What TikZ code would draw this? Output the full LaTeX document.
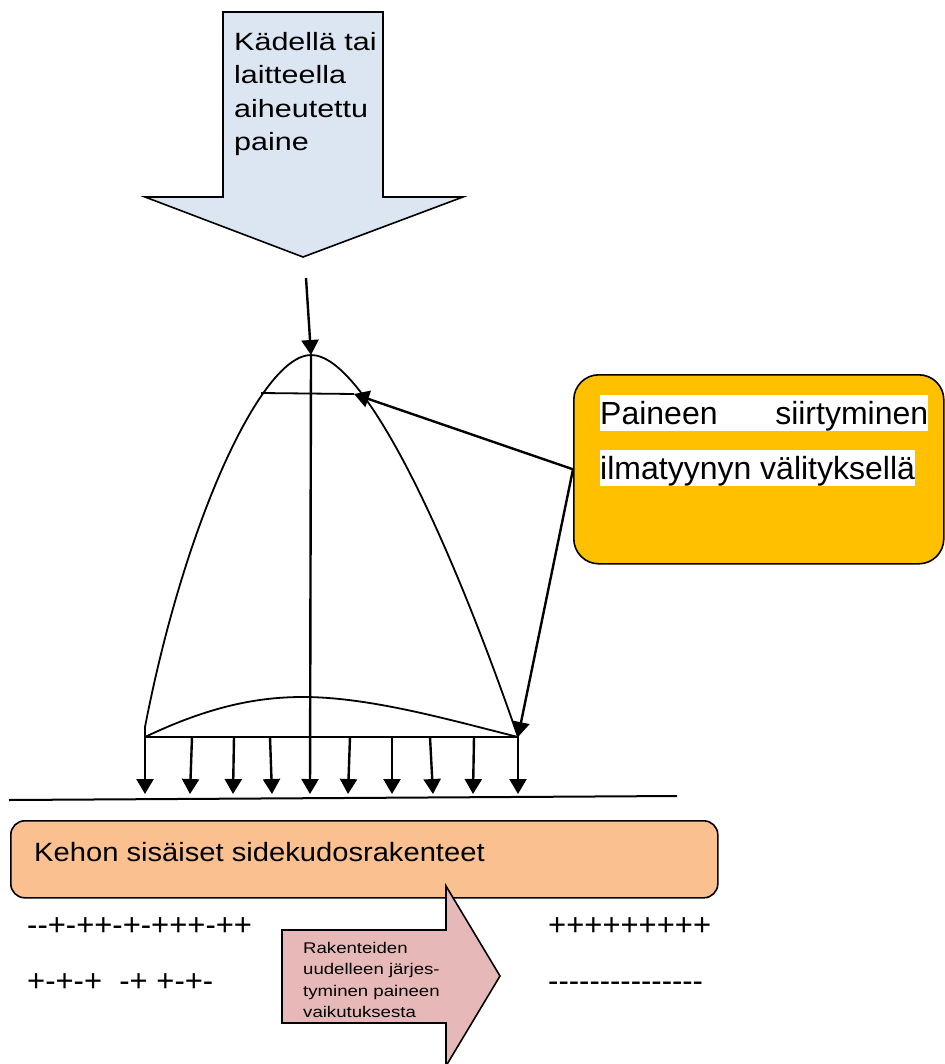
\documentclass[tikz,border=0pt]{standalone}
\usepackage{fontspec}
\setmainfont{Liberation Sans}
\newfontfamily\fA[FakeStretch=1.22]{Liberation Sans}
\newfontfamily\fB[FakeStretch=1.1]{Liberation Sans}
\newfontfamily\fC[FakeStretch=1.2]{Liberation Sans}
\newfontfamily\fD[Ligatures=TeXOff]{Liberation Sans}
\usetikzlibrary{arrows.meta}
\definecolor{blueA}{HTML}{DCE6F2}
\definecolor{yellowA}{HTML}{FFC000}
\definecolor{orangeA}{HTML}{FAC090}
\definecolor{pinkA}{HTML}{E6B9B8}
\begin{document}
\begin{tikzpicture}[x=1pt,y=-1pt,
  thinline/.style={line width=1.8pt},
  arr/.style={line width=2.4pt,-{Triangle[width=17pt,length=15pt]}},
  boxline/.style={line width=1.6pt},
  signs/.style={anchor=base west, inner sep=0, font=\fD\fontsize{31}{36}\selectfont},
  whitebar/.style={fill=white, inner sep=0, text height=29pt, text depth=6.5pt, anchor=base west, font=\fontsize{32}{38}\selectfont}]
\useasboundingbox (0,0) rectangle (944,1064);
\fill[white] (0,0) rectangle (944,1064);

% pressure block arrow
\draw[boxline, fill=blueA] (223,12) -- (383,12) -- (383,197) -- (463,197) -- (303,257) -- (145,197) -- (223,197) -- cycle;
\node[anchor=north west, inner sep=0, align=left, font=\fA\fontsize{25}{33.5}\selectfont] (ptext) at (234,32) {Kädellä tai\\laitteella\\aiheutettu\\paine};

% coordinates of the cushion
\coordinate (ptop) at (306,278);
\coordinate (apex) at (311,355);
\coordinate (chL) at (261,393);
\coordinate (chR) at (354,394);
\coordinate (bL) at (145,737);
\coordinate (bR) at (518,737);
\coordinate (cB) at (310,794);
\coordinate (gL) at (9,800);
\coordinate (gR) at (677,796);

\draw[arr] (ptop) -- (apex);
\draw[thinline] (bL) -- ++(0,-10) .. controls (185,520) and (262,355) .. (apex) .. controls (365,355) and (450,540) .. (bR);
\draw[thinline] (bL) .. controls (210,706) and (258,697) .. (303,697) .. controls (370,697) and (450,720) .. (bR);
\draw[thinline] (bL) -- (bR);
\draw[thinline] (chL) -- (chR);
\draw[arr] (apex) -- (cB);
\foreach \a/\b in {145/145,192/190,234/233,270/272,350/348,392/392,430/433,474/473,518/518}
  \draw[arr] (\a,737) -- (\b,794);
\draw[line width=2pt] (gL) -- (gR);

% yellow callout
\node[draw, boxline, fill=yellowA, rounded corners=25pt, minimum width=370pt, minimum height=189pt, inner sep=0, anchor=north west] (pbox) at (573,374) {};
\node[whitebar] (pt1) at (600,424) {\makebox[328pt]{Paineen\hfill siirtyminen}};
\node[whitebar] (pt2) at (600,479) {ilmatyynyn välityksellä};
\draw[arr] (pbox.west) -- (chR);
\draw[arr] (pbox.west) -- (bR);

% body structures
\node[draw, boxline, fill=orangeA, rounded corners=14pt, minimum width=707pt, minimum height=77pt, inner sep=0, anchor=north west] (kbox) at (10,820) {};
\node[anchor=base west, inner sep=0, font=\fB\fontsize{26.5}{32}\selectfont] (ktext) at (34,861) {Kehon sisäiset sidekudosrakenteet};

% rearrangement arrow
\draw[boxline, fill=pinkA] (282,930) -- (446,930) -- (446,886) -- (500,976) -- (446,1066) -- (446,1023) -- (282,1023) -- cycle;
\node[anchor=north west, inner sep=0, align=left, font=\fC\fontsize{15.5}{21.5}\selectfont] (rtext) at (303,942) {Rakenteiden\\uudelleen järjes-\\tyminen paineen\\vaikutuksesta};

% charges
\node[signs] (l1) at (27,935) {--+-++-+-+++-++};
\node[signs] (l2) at (27,991) {+-+-+\ \ -+ +-+-};
\node[signs] (r1) at (548,935) {+++++++++};
\node[signs] (r2) at (548,991) {---------------};
\end{tikzpicture}
\end{document}
